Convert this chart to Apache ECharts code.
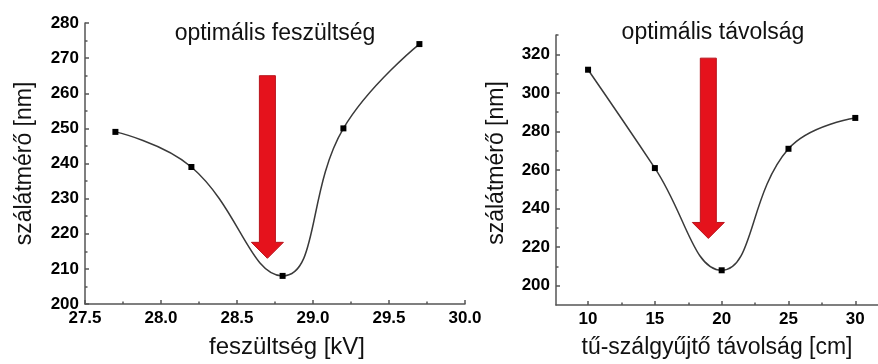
<!DOCTYPE html>
<html>
<head>
	<meta charset="utf-8" />
	<title>optimális feszültség / távolság</title>
	<script src="https://cdn.jsdelivr.net/npm/echarts@6/dist/echarts.min.js"></script>
	<style>
		html, body { margin: 0; padding: 0; background: #fff; }
		#chartmain { width: 878px; height: 364px; }
	</style>
</head>
<body>
	<div id="chartmain"></div>
<script type="text/javascript">
	// bal: feszültség [kV] -> szálátmérő [nm]
	var voltage = [27.7, 28.2, 28.8, 29.2, 29.7];
	var diamV = [249, 239, 208, 250, 274];
	// jobb: tű-szálgyűjtő távolság [cm] -> szálátmérő [nm]
	var distance = [10, 15, 20, 25, 30];
	var diamD = [312, 261, 208, 271, 287];

	var xTicksR = [10, 15, 20, 25, 30];
	var xMinorR = [12.5, 17.5, 22.5, 27.5];
	var yTicksR = [200, 220, 240, 260, 280, 300, 320];
	var yMinorR = [210, 230, 250, 270, 290, 310, 330];

	// nyilak: x, felső vég, csúcs (adat koordinátákban)
	var arrowX = [28.7, 19];
	var arrowTop = [265, 318];
	var arrowTip = [213, 224.5];

	var font = 'Liberation Sans, Arial, sans-serif';
	var dark = '#111';
	var axisCol = '#555';

	function pairs(xs, ys) {
		return xs.map(function (x, i) { return [x, ys[i]]; });
	}

	function axisBase(grid) {
		return {
			type: 'value', gridIndex: grid,
			axisLine: { show: true, lineStyle: { color: axisCol, width: 1.5 } },
			axisTick: { show: true, inside: true, length: 4, lineStyle: { color: axisCol, width: 1.5 } },
			axisLabel: { color: '#000', fontFamily: font, fontWeight: 'bold', fontSize: 17, margin: 6 },
			splitLine: { show: false },
			nameLocation: 'middle',
			nameTextStyle: { color: dark, fontFamily: font, fontSize: 23 }
		};
	}

	// csak kis osztásokhoz
	function minorAxis(grid, pos, min, max, vals) {
		return {
			type: 'value', gridIndex: grid, position: pos, min: min, max: max,
			axisLine: { show: false },
			axisTick: { show: true, inside: true, length: 2.5, customValues: vals, lineStyle: { color: axisCol, width: 1.5 } },
			axisLabel: { show: false },
			splitLine: { show: false }
		};
	}

	var myChart = echarts.init(document.getElementById('chartmain'));

	var xL = axisBase(0);
	xL.min = 27.5; xL.max = 30.0; xL.interval = 0.5;
	xL.axisLabel.formatter = function (v) { return v.toFixed(1); };
	xL.minorTick = { show: true, splitNumber: 2, length: 2.5, lineStyle: { color: axisCol, width: 1.5 } };
	xL.name = 'feszültség [kV]';
	xL.nameGap = 31;
	xL.nameTextStyle.fontSize = 24;
	xL.nameTextStyle.padding = [0, 0, 0, 24];

	var yL = axisBase(0);
	yL.min = 200; yL.max = 280; yL.interval = 10;
	yL.minorTick = { show: true, splitNumber: 2, length: 2.5, lineStyle: { color: axisCol, width: 1.5 } };
	yL.name = 'szálátmérő [nm]';
	yL.nameGap = 49;

	var xR = axisBase(1);
	xR.min = 7.6; xR.max = 31.7;
	xR.axisTick.customValues = xTicksR;
	xR.axisLabel.customValues = xTicksR;
	xR.name = 'tű-szálgyűjtő távolság [cm]';
	xR.nameGap = 31;

	var yR = axisBase(1);
	yR.min = 190; yR.max = 330;
	yR.axisTick.customValues = yTicksR;
	yR.axisLabel.customValues = yTicksR;
	yR.name = 'szálátmérő [nm]';
	yR.nameGap = 48;
	yR.nameTextStyle.padding = [0, 0, 0, 14];

	function lineSeries(xi, yi, data) {
		return {
			type: 'line', xAxisIndex: xi, yAxisIndex: yi,
			data: data, smooth: 0.45,
			symbol: 'rect', symbolSize: 6, showSymbol: true,
			itemStyle: { color: '#000' },
			lineStyle: { color: '#3a3a3a', width: 1.5 },
			z: 3
		};
	}

	var titleStyle = { color: dark, fontFamily: font, fontSize: 23, fontWeight: 'normal' };

	var option = {
		animation: false,
		backgroundColor: '#fff',
		title: [
			{ text: 'optimális feszültség', left: 270, top: 17, textAlign: 'center', textStyle: titleStyle },
			{ text: 'optimális távolság', left: 708, top: 16, textAlign: 'center', textStyle: titleStyle }
		],
		grid: [
			{ left: 85, right: 413, top: 23, bottom: 56 },
			{ left: 556, right: 0, top: 35, bottom: 56 }
		],
		xAxis: [xL, xR, minorAxis(1, 'bottom', 7.6, 31.7, xMinorR)],
		yAxis: [yL, yR, minorAxis(1, 'left', 190, 330, yMinorR)],
		series: [
			lineSeries(0, 0, pairs(voltage, diamV)),
			lineSeries(1, 1, pairs(distance, diamD))
		]
	};
	myChart.setOption(option);

	// piros nyilak
	var shapes = [0, 1].map(function (g) {
		var top = myChart.convertToPixel({ gridIndex: g }, [arrowX[g], arrowTop[g]]);
		var tip = myChart.convertToPixel({ gridIndex: g }, [arrowX[g], arrowTip[g]]);
		var cx = top[0], sw = 8, hw = 16, hl = 16;
		var hy = tip[1] - hl;
		return {
			type: 'polygon',
			shape: { points: [
				[cx - sw, top[1]], [cx + sw, top[1]], [cx + sw, hy], [cx + hw, hy],
				[cx, tip[1]], [cx - hw, hy], [cx - sw, hy]
			] },
			style: { fill: '#e5121c', stroke: '#b8141c', lineWidth: 1 },
			z: 10
		};
	});
	myChart.setOption({ graphic: shapes });
</script>
</body>
</html>
